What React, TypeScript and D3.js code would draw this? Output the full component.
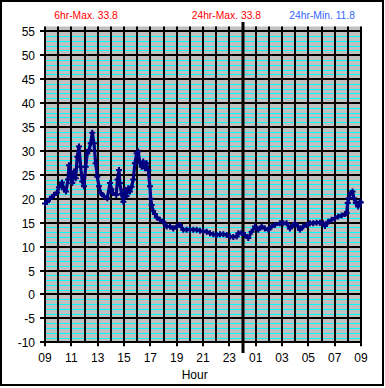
import React from "react";
import * as d3 from "d3";

// hours after 09:00
const hours: number[] = [
  0.0, 0.15, 0.38, 0.68, 0.91, 1.06, 1.29, 1.44, 1.59, 1.75, 1.82, 1.97, 2.07, 2.2, 2.33, 2.45, 2.58, 2.71, 2.83, 2.96,
  3.09, 3.21, 3.34, 3.47, 3.59, 3.72, 3.85, 3.97, 4.1, 4.23, 4.48, 4.73, 4.94, 5.05, 5.15, 5.41, 5.51, 5.62, 5.69, 5.81,
  5.95, 6.07, 6.19, 6.32, 6.45, 6.58, 6.7, 6.83, 6.96, 7.08, 7.21, 7.34, 7.46, 7.59, 7.72, 7.84, 7.97, 8.03, 8.1, 8.22,
  8.35, 8.49, 8.73, 8.98, 9.24, 9.49, 9.74, 10.0, 10.25, 10.5, 10.76, 11.01, 11.26, 11.52, 11.77, 12.02, 12.28, 12.53, 12.78, 13.04,
  13.29, 13.54, 13.8, 14.05, 14.3, 14.56, 14.68, 14.93, 15.19, 15.44, 15.69, 15.95, 16.2, 16.45, 16.7, 16.96, 17.21, 17.46, 17.84, 18.09,
  18.35, 18.6, 18.85, 18.98, 19.21, 19.36, 19.61, 19.87, 20.12, 20.37, 20.63, 20.88, 21.13, 21.26, 21.51, 21.77, 22.02, 22.27, 22.53, 22.78,
  22.91, 22.99, 23.08, 23.21, 23.36, 23.46, 23.61, 23.78, 23.91, 23.99,
];
const temps: number[] = [
  19.0, 19.3, 20.0, 20.8, 21.3, 22.4, 23.4, 22.0, 21.5, 24.0, 27.0, 25.4, 23.3, 25.7, 24.3, 28.8, 30.9, 26.7, 23.6, 22.6,
  26.7, 29.5, 30.2, 31.6, 33.8, 31.6, 27.4, 24.6, 22.6, 21.2, 20.5, 20.1, 23.3, 22.0, 21.2, 20.8, 24.0, 26.0, 23.3, 21.0,
  19.4, 21.9, 20.5, 22.2, 21.5, 22.5, 24.0, 27.4, 29.5, 29.9, 27.4, 26.7, 27.8, 26.4, 27.4, 26.0, 22.6, 20.0, 18.7, 17.4,
  16.8, 16.1, 15.6, 15.2, 14.2, 14.2, 13.8, 14.2, 14.5, 13.5, 13.5, 13.6, 13.5, 13.5, 13.3, 13.2, 13.1, 12.8, 12.6, 12.4,
  12.6, 12.6, 12.4, 12.1, 12.0, 12.1, 12.8, 12.9, 12.4, 11.8, 13.1, 14.2, 13.5, 14.2, 13.8, 13.5, 14.2, 14.5, 14.9, 14.9,
  14.9, 13.8, 14.5, 14.9, 14.2, 13.5, 14.2, 14.5, 14.9, 14.9, 15.0, 15.0, 14.9, 14.3, 15.2, 15.6, 15.9, 16.3, 16.5, 16.8,
  17.0, 19.1, 20.1, 21.2, 21.5, 20.1, 19.1, 18.4, 19.4, 19.2,
];
const yTicks: number[] = [-10, -5, 0, 5, 10, 15, 20, 25, 30, 35, 40, 45, 50, 55];
const xTickLabels: string[] = ["09", "11", "13", "15", "17", "19", "21", "23", "01", "03", "05", "07", "09"];
const headerTexts: string[] = ["6hr-Max. 33.8", "24hr-Max. 33.8", "24hr-Min. 11.8"];
const midnightHour = 15;

const FONT = "'Liberation Sans', Arial, sans-serif";

export default function App() {
  const W = 385, H = 388;
  const left = 45, right = 361, top = 26.5, bottom = 342.3;
  const x = d3.scaleLinear().domain([0, 24]).range([left, right]);
  const y = d3.scaleLinear().domain([-10, 56]).range([bottom, top]);
  const pts = hours.map((h, i) => [h, temps[i]] as [number, number]);
  const line = d3.line<[number, number]>().x((d) => x(d[0])).y((d) => y(d[1]));

  const minor = d3.range(-9, 56).filter((v) => v % 5 !== 0);
  const hourLines = d3.range(1, 25);

  return (
    <div style={{ position: "absolute", left: 0, top: 0 }}>
      <svg width={W} height={H} style={{ display: "block", background: "#fff" }}>
        <rect x={1} y={1} width={382} height={384} fill="#fff" stroke="#000" strokeWidth={2} />
        <rect x={left} y={top} width={right - left} height={bottom - top} fill="#c0c0c0" />
        {minor.map((v) => (
          <line key={"c" + v} x1={left} x2={right} y1={Math.round(y(v)) + 0.5} y2={Math.round(y(v)) + 0.5} stroke="#00ffff" strokeWidth={1} />
        ))}
        {yTicks.map((v) => (
          <line key={"h" + v} x1={left - 5} x2={right} y1={Math.round(y(v))} y2={Math.round(y(v))} stroke="#000" strokeWidth={2} />
        ))}
        {hourLines.map((h) => (
          <line key={"v" + h} x1={Math.round(x(h))} x2={Math.round(x(h))} y1={top} y2={bottom} stroke="#000" strokeWidth={2} />
        ))}
        <line x1={left} x2={left} y1={top} y2={bottom} stroke="#000" strokeWidth={2} />
        {xTickLabels.map((_, i) => (
          <line key={"xt" + i} x1={Math.round(x(i * 2))} x2={Math.round(x(i * 2))} y1={bottom} y2={bottom + 4} stroke="#000" strokeWidth={2} />
        ))}
        <line x1={Math.round(x(midnightHour))} x2={Math.round(x(midnightHour))} y1={22} y2={353} stroke="#000" strokeWidth={3} />
        <path d={line(pts) || ""} fill="none" stroke="#000080" strokeWidth={3.2} strokeLinejoin="round" />
        {pts.map((p, i) => {
          const cx = x(p[0]), cy = y(p[1]);
          return (
            <path key={"m" + i} d={`M${cx - 3},${cy}H${cx + 3}M${cx},${cy - 3}V${cy + 3}`} stroke="#000080" strokeWidth={2} />
          );
        })}
        {yTicks.map((v) => (
          <text key={"yl" + v} x={35} y={Math.round(y(v)) + 4.5} textAnchor="end" fontFamily={FONT} fontSize={12} fill="#000">
            {v}
          </text>
        ))}
        {xTickLabels.map((t, i) => (
          <text key={"xl" + i} x={x(i * 2)} y={362} textAnchor="middle" fontFamily={FONT} fontSize={12} fill="#000">
            {t}
          </text>
        ))}
        <text x={194.7} y={378.5} textAnchor="middle" fontFamily={FONT} fontSize={12} fill="#000">Hour</text>
        <text x={54.3} y={18.7} fontFamily={FONT} fontSize={10.3} fill="#ff0000">{headerTexts[0]}</text>
        <text x={191.7} y={18.7} fontFamily={FONT} fontSize={10.3} fill="#ff0000">{headerTexts[1]}</text>
        <text x={289.3} y={18.7} fontFamily={FONT} fontSize={10.3} fill="#3366ff">{headerTexts[2]}</text>
      </svg>
    </div>
  );
}
